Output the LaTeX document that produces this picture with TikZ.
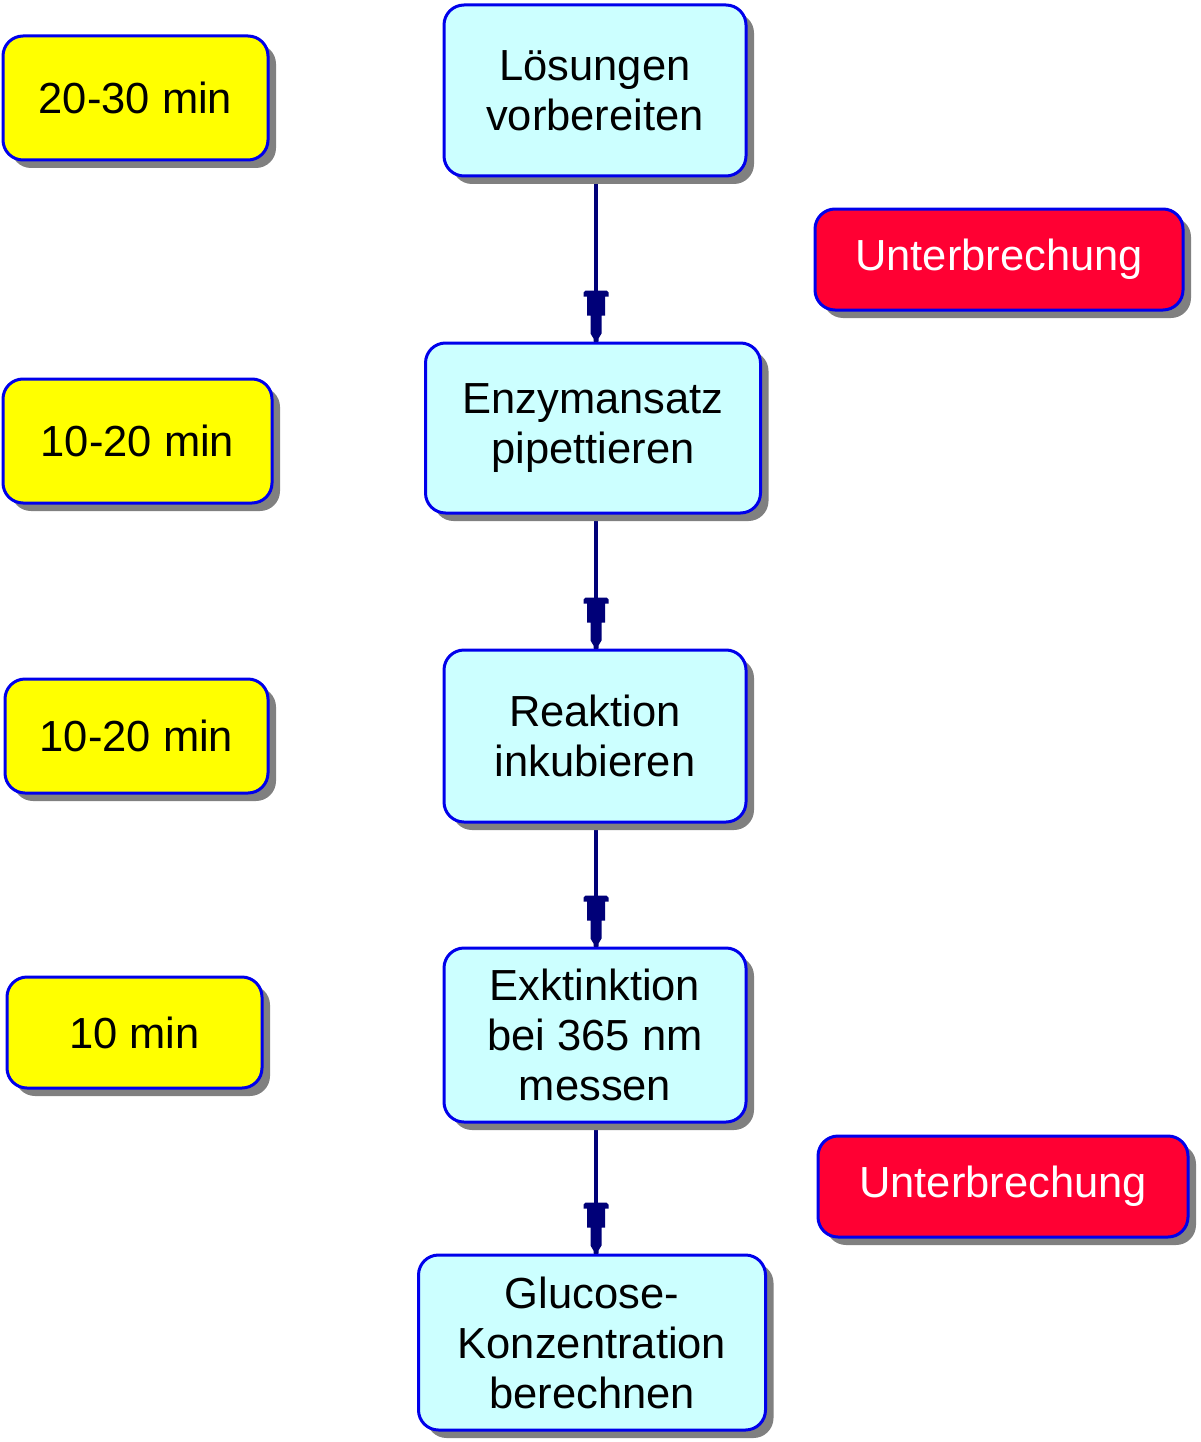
\documentclass[tikz,border=0pt]{standalone}
\usepackage{fontspec}
\setmainfont{Liberation Sans}
\usetikzlibrary{shadows}
\definecolor{boxblue}{RGB}{0,0,235}
\definecolor{navy}{RGB}{0,0,120}
\definecolor{cyanfill}{RGB}{204,255,255}
\definecolor{yelfill}{RGB}{255,255,0}
\definecolor{redfill}{RGB}{255,0,51}
\definecolor{shadowgray}{RGB}{128,128,128}
\pgfdeclarelayer{bg}
\pgfsetlayers{bg,main}
\tikzset{
  basebox/.style={rectangle, rounded corners=20pt, draw=boxblue, line width=3pt,
    inner sep=0pt, align=center, font=\fontsize{43.5}{50}\selectfont,
    drop shadow={shadow xshift=8pt, shadow yshift=-8pt, fill=shadowgray, opacity=1}},
  stepbox/.style={basebox, fill=cyanfill, text=black},
  timebox/.style={basebox, fill=yelfill, text=black},
  breakbox/.style={basebox, fill=redfill, text=white},
  conn/.style={draw=navy, line width=4pt},
  pinhead/.pic={
    \fill[navy] (-2.5,0) -- (-2.5,-3) -- (-5.5,-8) -- (-5.5,-26) -- (-9,-26) -- (-9,-45)
      -- (-12.5,-45) -- (-12.5,-49) -- (-10.5,-51) -- (10.5,-51) -- (12.5,-49)
      -- (12.5,-45) -- (9,-45) -- (9,-26) -- (5.5,-26) -- (5.5,-8) -- (2.5,-3) -- (2.5,0) -- cycle;
  }
}
\begin{document}
\begin{tikzpicture}[x=1pt, y=-1pt]
\useasboundingbox (0,0) rectangle (1200,1442);

% time boxes
\node[timebox, minimum width=265pt, minimum height=124pt] (t1) at (135.5,98) {20-30 min};
\node[timebox, minimum width=269pt, minimum height=124pt] (t2) at (137.5,441) {10-20 min};
\node[timebox, minimum width=263pt, minimum height=114pt] (t3) at (136.5,736) {10-20 min};
\node[timebox, minimum width=255pt, minimum height=111pt] (t4) at (134.5,1032.5) {10 min};

% process steps
\node[stepbox, minimum width=302pt, minimum height=171pt] (s1) at (595,90.5) {Lösungen\\vorbereiten};
\node[stepbox, minimum width=335pt, minimum height=170pt] (s2) at (593,428) {Enzymansatz\\pipettieren};
\node[stepbox, minimum width=302pt, minimum height=172pt] (s3) at (595,736) {Reaktion\\inkubieren};
\node[stepbox, minimum width=302pt, minimum height=174pt] (s4) at (595,1035) {Exktinktion\\bei 365 nm\\messen};
\node[stepbox, minimum width=347pt, minimum height=175pt] (s5) at (592,1342.5) {Glucose-\\Konzentration\\berechnen};

% interruptions
\node[breakbox, minimum width=368pt, minimum height=101pt] (r1) at (999,259.5) {Unterbrechung};
\node[breakbox, minimum width=370pt, minimum height=101pt] (r2) at (1003,1186.5) {Unterbrechung};

% connectors
\coordinate (lx) at (596,0);
\begin{pgfonlayer}{bg}
\foreach \a/\b in {s1/s2, s2/s3, s3/s4, s4/s5} {
  \draw[conn] (\a.south -| lx) -- (\b.north -| lx) coordinate (\b-in);
}
\end{pgfonlayer}
\foreach \b in {s2, s3, s4, s5} {
  \pic at (\b-in) {pinhead};
}
\end{tikzpicture}
\end{document}
